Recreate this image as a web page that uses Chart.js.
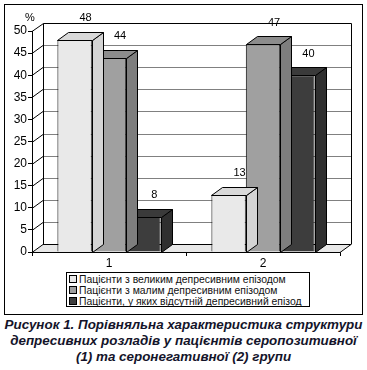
<!DOCTYPE html>
<html>
<head>
<meta charset="utf-8">
<script src="https://cdn.jsdelivr.net/npm/chart.js@4/dist/chart.umd.min.js"></script>
<style>
  html, body { margin: 0; padding: 0; background: #fff; }
  #page { position: relative; width: 367px; height: 370px; overflow: hidden; font-family: Arial, "Liberation Sans", sans-serif; }
  #frame { position: absolute; left: 4px; top: 4px; width: 359px; height: 311px; border: 1px solid #000; box-sizing: border-box; }
  #chartBox { position: absolute; left: 0; top: 0; width: 367px; height: 268px; }
  #legend { position: absolute; left: 66px; top: 272px; width: 244px; height: 35px; border: 1px solid #000; box-sizing: border-box;
            font-size: 10.4px; line-height: 11px; padding: 1px 0 0 2px; color: #111; }
  #legend div { white-space: nowrap; height: 11px; }
  #legend span.sw { display: inline-block; width: 6px; height: 6px; border: 1px solid #000; margin-right: 2px; vertical-align: 0px; }
  #caption { position: absolute; left: 0; top: 317px; width: 367px; text-align: center; font-weight: bold; font-style: italic;
             font-size: 13.4px; line-height: 16px; color: #14142a; white-space: nowrap; }
</style>
</head>
<body>
<div id="page">
  <div id="frame"></div>
  <div id="chartBox"><canvas id="myChart" width="367" height="268"></canvas></div>
  <div id="legend"></div>
  <div id="caption">Рисунок 1. Порівняльна характеристика структури<br>депресивних розладів у пацієнтів серопозитивної<br>(1) та серонегативної (2) групи</div>
</div>
<script>
// Дані діаграми
const categories = ['1', '2'];
const seriesNames = [
  'Пацієнти з великим депресивним епізодом',
  'Пацієнти з малим депресивним епізодом',
  'Пацієнти, у яких відсутній депресивний епізод'
];
const bigEpisode = [48, 13];
const smallEpisode = [44, 47];
const noEpisode = [8, 40];
const yMin = 0;
const yMax = 50;
const yStep = 5;

// кольори: передня грань, бокова, верхня
const fronts = ['#e9e9e9', '#a0a0a0', '#3d3d3d'];
const sides = ['#d4d4d4', '#7e7e7e', '#2f2f2f'];
const tops = ['#d9d9d9', '#8c8c8c', '#3a3a3a'];

const dx = 11, dy = 8; // глибина "3D"

// Стіни, підлога і сітка позаду стовпчиків
const walls = {
  id: 'walls',
  beforeDatasetsDraw(chart) {
    const ctx = chart.ctx;
    const a = chart.chartArea;
    const y = chart.scales.y;
    ctx.save();
    ctx.lineWidth = 1;
    // підлога
    ctx.fillStyle = '#e8e8e8';
    ctx.strokeStyle = '#000';
    ctx.beginPath();
    ctx.moveTo(a.left, a.bottom + 0.5);
    ctx.lineTo(a.right, a.bottom + 0.5);
    ctx.lineTo(a.right + dx, a.bottom - dy + 0.5);
    ctx.lineTo(a.left + dx, a.bottom - dy + 0.5);
    ctx.closePath();
    ctx.fill();
    ctx.stroke();
    // сітка на задній стіні
    for (let v = yMin + yStep; v < yMax; v += yStep) {
      const py = Math.round(y.getPixelForValue(v)) + 0.5;
      ctx.strokeStyle = '#808080';
      ctx.beginPath();
      ctx.moveTo(a.left + dx, py - dy);
      ctx.lineTo(a.right + dx, py - dy);
      ctx.stroke();
      ctx.strokeStyle = '#000';
      ctx.beginPath();
      ctx.moveTo(a.left, py);
      ctx.lineTo(a.left + dx, py - dy);
      ctx.stroke();
    }
    // рамка задньої стіни
    const top = Math.round(y.getPixelForValue(yMax)) + 0.5;
    ctx.strokeStyle = '#000';
    ctx.beginPath();
    ctx.moveTo(a.left, top);
    ctx.lineTo(a.left + dx + 0.5, top - dy);
    ctx.lineTo(a.right + dx + 0.5, top - dy);
    ctx.lineTo(a.right + dx + 0.5, a.bottom - dy + 0.5);
    ctx.moveTo(a.left + dx + 0.5, top - dy);
    ctx.lineTo(a.left + dx + 0.5, a.bottom - dy);
    ctx.stroke();
    // знак %
    ctx.fillStyle = '#000';
    ctx.font = '11px Arial';
    ctx.textAlign = 'center';
    ctx.fillText('%', a.left - 2, top - 11);
    ctx.restore();
  },
  afterDatasetDraw(chart, args) {
    const ctx = chart.ctx;
    const i = args.index;
    ctx.save();
    ctx.lineWidth = 1;
    ctx.strokeStyle = '#000';
    args.meta.data.forEach(bar => {
      const p = bar.getProps(['x', 'y', 'base', 'width'], true);
      const l = Math.round(p.x - p.width / 2) + 0.5;
      const r = Math.round(p.x + p.width / 2) + 0.5;
      const t = Math.round(p.y) + 0.5;
      const b = Math.round(p.base) + 0.5;
      // бокова грань
      ctx.fillStyle = sides[i];
      ctx.beginPath();
      ctx.moveTo(r, t);
      ctx.lineTo(r + dx, t - dy);
      ctx.lineTo(r + dx, b - dy);
      ctx.lineTo(r, b);
      ctx.closePath();
      ctx.fill();
      ctx.stroke();
      // верхня грань
      ctx.fillStyle = tops[i];
      ctx.beginPath();
      ctx.moveTo(l, t);
      ctx.lineTo(l + dx, t - dy);
      ctx.lineTo(r + dx, t - dy);
      ctx.lineTo(r, t);
      ctx.closePath();
      ctx.fill();
      ctx.stroke();
    });
    ctx.restore();
  },
  afterDatasetsDraw(chart) {
    const ctx = chart.ctx;
    ctx.save();
    ctx.fillStyle = '#000';
    ctx.font = '11px Arial';
    ctx.textAlign = 'center';
    ctx.textBaseline = 'bottom';
    chart.data.datasets.forEach((ds, i) => {
      chart.getDatasetMeta(i).data.forEach((bar, j) => {
        const p = bar.getProps(['x', 'y'], true);
        ctx.fillText(String(ds.data[j]), p.x + dx, p.y - dy - 8);
      });
    });
    ctx.restore();
  }
};

const ctx = document.getElementById('myChart').getContext('2d');
const chart = new Chart(ctx, {
  type: 'bar',
  data: {
    labels: categories,
    datasets: [
      { label: seriesNames[0], data: bigEpisode, backgroundColor: fronts[0] },
      { label: seriesNames[1], data: smallEpisode, backgroundColor: fronts[1] },
      { label: seriesNames[2], data: noEpisode, backgroundColor: fronts[2] }
    ].map(d => Object.assign(d, { borderColor: '#000', borderWidth: 1, categoryPercentage: 0.67, barPercentage: 1 }))
  },
  options: {
    responsive: false,
    animation: false,
    devicePixelRatio: 1,
    layout: { padding: { left: 0, top: 31, right: 27, bottom: 0 } },
    plugins: { legend: { display: false }, tooltip: { enabled: false } },
    scales: {
      x: {
        grid: { drawOnChartArea: false, tickLength: 4, color: '#000', offset: true },
        border: { display: true, color: '#000' },
        ticks: { color: '#000', font: { family: 'Arial', size: 12 }, padding: 0 },
        afterFit(scale) { scale.height = 16; }
      },
      y: {
        min: yMin,
        max: yMax,
        grid: { drawOnChartArea: false, tickLength: 4, color: '#000' },
        border: { display: true, color: '#000' },
        ticks: { stepSize: yStep, color: '#000', font: { family: 'Arial', size: 12 }, padding: 1 },
        afterFit(scale) { scale.width = 32; }
      }
    }
  },
  plugins: [walls]
});

// легенда в рамці
const leg = document.getElementById('legend');
chart.data.datasets.forEach(ds => {
  const row = document.createElement('div');
  row.innerHTML = '<span class="sw" style="background:' + ds.backgroundColor + '"></span>' + ds.label;
  leg.appendChild(row);
});
</script>
</body>
</html>
